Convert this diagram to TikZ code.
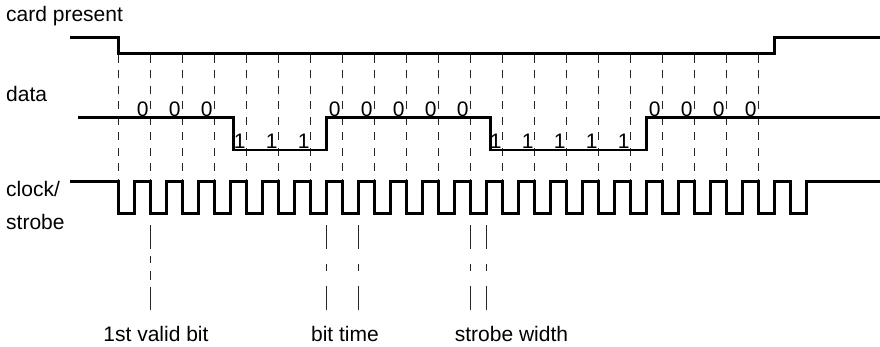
\documentclass[tikz,border=0pt]{standalone}
\usepackage{fontspec}
\setmainfont{Liberation Sans}
\usepackage{tikz}
\usetikzlibrary{positioning}
\tikzset{
  sig/.style={line width=2.6pt},
  bitline/.style={line width=0.9pt, black!85, dash pattern=on 8pt off 7.5pt},
  validline/.style={line width=0.9pt, black!85, dash pattern=on 24pt off 7.5pt on 7pt off 8pt on 9pt off 6.5pt on 30pt off 10pt},
  timeline/.style={line width=0.9pt, black!85, dash pattern=on 24pt off 15pt on 7.5pt off 15pt on 30pt off 10pt},
  lbl/.style={inner sep=0pt, font=\fontsize{21}{25}\selectfont}
}

\begin{document}
\begin{tikzpicture}[x=1pt, y=-1pt]
				\useasboundingbox (0,0) rectangle (880,347);
				% signal names
				\node[lbl, anchor=base west] (cardname) at (6,22) {card present};
				\node[lbl, anchor=base west] (dataname) at (6,102) {data};
				\node[lbl, anchor=base west] (clkname) at (6,197) {clock/};
				\node[lbl, anchor=base west] (strobename) at (6,230) {strobe};
				% bit boundaries
				\foreach \k in {0,...,20}
					\draw [bitline] ({118.7+32*\k},55) -- ({118.7+32*\k},182);
				% card present
				\draw [sig] (70,37.7) -- (118.7,37.7) -- (118.7,53.3) -- (774.5,53.3) -- (774.5,37.7) -- (880,37.7);
				% data
				\draw [sig] (78.3,117.3) -- (233.3,117.3) -- (233.3,150) -- (326.7,150) -- (326.7,117.3)
					-- (490.7,117.3) -- (490.7,150) -- (646.7,150) -- (646.7,117.3) -- (880,117.3);
				\foreach \k in {1,2,3,7,8,9,10,11,17,18,19,20}
					\node[lbl, anchor=base] (zero\k) at ({110.7+32*\k},116.3) {0};
				\foreach \k in {4,5,6,12,13,14,15,16}
					\node[lbl, anchor=base] (one\k) at ({111.7+32*\k},149) {1};
				% clock / strobe
				\draw [sig] (70,181.7) foreach \k in {0,...,21} {
					-- ({118.7+32*\k},181.7) -- ({118.7+32*\k},213.3) -- ({134.7+32*\k},213.3) -- ({134.7+32*\k},181.7)
				} -- (880,181.7);
				% timing markers
				\draw [validline] (150.7,224.7) -- (150.7,310);
				\draw [timeline] (326.7,224.7) -- (326.7,310);
				\draw [timeline] (358.7,224.7) -- (358.7,310);
				\draw [timeline] (470.7,224.7) -- (470.7,310);
				\draw [timeline] (486.7,224.7) -- (486.7,310);
				\node[lbl, anchor=base] (validlbl) at (156,341) {1st valid bit};
				\node[lbl, anchor=base] (bitlbl) at (345,341) {bit time};
				\node[lbl, anchor=base] (strobelbl) at (511.5,341) {strobe width};
			\end{tikzpicture}
\end{document}
